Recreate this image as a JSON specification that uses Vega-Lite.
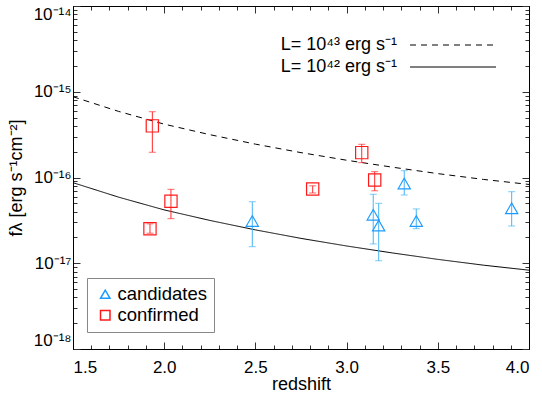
{
  "$schema": "https://vega.github.io/schema/vega-lite/v6.json",
  "width": 456,
  "height": 343,
  "autosize": {"type": "none"},
  "padding": {"left": 73, "top": 6, "right": 13, "bottom": 46},
  "background": "white",
  "config": {
    "view": {"stroke": "black", "strokeWidth": 1},
    "font": "Liberation Sans",
    "axis": {"grid": false, "zindex": 1, "ticks": true, "domainColor": "black", "tickColor": "#333", "tickWidth": 1, "labelColor": "black", "titleColor": "black", "labelFont": "Liberation Sans", "titleFont": "Liberation Sans", "labelFontSize": 17, "titleFontSize": 18, "titleFontWeight": "normal", "labelOverlap": false},
    "legend": {"labelFont": "Liberation Sans", "labelFontSize": 18, "labelColor": "black"}
  },
  "datasets": {
    "curves": [
      {"z": 1.5, "f": 8.75e-16, "L": "L= 10⁴³ erg s⁻¹"},
      {"z": 1.75, "f": 5.9e-16, "L": "L= 10⁴³ erg s⁻¹"},
      {"z": 2.0, "f": 4.19e-16, "L": "L= 10⁴³ erg s⁻¹"},
      {"z": 2.25, "f": 3.16e-16, "L": "L= 10⁴³ erg s⁻¹"},
      {"z": 2.5, "f": 2.45e-16, "L": "L= 10⁴³ erg s⁻¹"},
      {"z": 2.75, "f": 1.95e-16, "L": "L= 10⁴³ erg s⁻¹"},
      {"z": 3.0, "f": 1.59e-16, "L": "L= 10⁴³ erg s⁻¹"},
      {"z": 3.25, "f": 1.32e-16, "L": "L= 10⁴³ erg s⁻¹"},
      {"z": 3.5, "f": 1.11e-16, "L": "L= 10⁴³ erg s⁻¹"},
      {"z": 3.75, "f": 9.5e-17, "L": "L= 10⁴³ erg s⁻¹"},
      {"z": 4.0, "f": 8.3e-17, "L": "L= 10⁴³ erg s⁻¹"},
      {"z": 1.5, "f": 8.7e-17, "L": "L= 10⁴² erg s⁻¹"},
      {"z": 1.75, "f": 5.9e-17, "L": "L= 10⁴² erg s⁻¹"},
      {"z": 2.0, "f": 4.19e-17, "L": "L= 10⁴² erg s⁻¹"},
      {"z": 2.25, "f": 3.16e-17, "L": "L= 10⁴² erg s⁻¹"},
      {"z": 2.5, "f": 2.45e-17, "L": "L= 10⁴² erg s⁻¹"},
      {"z": 2.75, "f": 1.95e-17, "L": "L= 10⁴² erg s⁻¹"},
      {"z": 3.0, "f": 1.59e-17, "L": "L= 10⁴² erg s⁻¹"},
      {"z": 3.25, "f": 1.32e-17, "L": "L= 10⁴² erg s⁻¹"},
      {"z": 3.5, "f": 1.11e-17, "L": "L= 10⁴² erg s⁻¹"},
      {"z": 3.75, "f": 9.5e-18, "L": "L= 10⁴² erg s⁻¹"},
      {"z": 4.0, "f": 8.3e-18, "L": "L= 10⁴² erg s⁻¹"}
    ],
    "points": [
      {"z": 2.483, "f": 3.11e-17, "lo": 1.56e-17, "hi": 5.22e-17, "type": "candidates"},
      {"z": 3.146, "f": 3.68e-17, "lo": 1.68e-17, "hi": 6.37e-17, "type": "candidates"},
      {"z": 3.176, "f": 2.75e-17, "lo": 1.07e-17, "hi": 5.0e-17, "type": "candidates"},
      {"z": 3.316, "f": 8.51e-17, "lo": 6.25e-17, "hi": 1.2e-16, "type": "candidates"},
      {"z": 3.382, "f": 3.11e-17, "lo": 2.53e-17, "hi": 4.3e-17, "type": "candidates"},
      {"z": 3.905, "f": 4.37e-17, "lo": 2.72e-17, "hi": 6.83e-17, "type": "candidates"},
      {"z": 1.935, "f": 4.0e-16, "lo": 1.97e-16, "hi": 5.85e-16, "type": "confirmed"},
      {"z": 1.922, "f": 2.53e-17, "lo": 2.24e-17, "hi": 2.88e-17, "type": "confirmed"},
      {"z": 2.037, "f": 5.28e-17, "lo": 3.31e-17, "hi": 7.28e-17, "type": "confirmed"},
      {"z": 2.814, "f": 7.34e-17, "lo": 6.6e-17, "hi": 8.0e-17, "type": "confirmed"},
      {"z": 3.083, "f": 1.95e-16, "lo": 1.49e-16, "hi": 2.44e-16, "type": "confirmed"},
      {"z": 3.154, "f": 9.35e-17, "lo": 7.0e-17, "hi": 1.17e-16, "type": "confirmed"}
    ]
  },
  "resolve": {"axis": {"x": "independent", "y": "independent"}},
  "layer": [
    {
      "data": {"name": "curves"},
      "mark": {"type": "line", "color": "black", "strokeWidth": 1, "clip": true},
      "encoding": {
        "x": {"field": "z", "type": "quantitative",
          "scale": {"domain": [1.5, 4.0], "nice": false, "zero": false},
          "axis": {"orient": "bottom", "title": "redshift", "titlePadding": 0,
            "values": [1.5, 2.0, 2.5, 3.0, 3.5, 4.0], "format": ".1f",
            "tickSize": -7, "labelPadding": 17}},
        "y": {"field": "f", "type": "quantitative",
          "scale": {"type": "log", "domain": [1e-18, 1e-14], "nice": false},
          "axis": {"orient": "left", "title": "fλ [erg s⁻¹cm⁻²]", "titlePadding": 8,
            "values": [1e-18, 1e-17, 1e-16, 1e-15, 1e-14],
            "labelExpr": "'10' + ({'-18':'⁻¹⁸','-17':'⁻¹⁷','-16':'⁻¹⁶','-15':'⁻¹⁵','-14':'⁻¹⁴'})[''+round(log(datum.value)/LN10)]",
            "labelFlush": true, "tickSize": -7, "labelPadding": 9}},
        "strokeDash": {"field": "L", "type": "nominal",
          "scale": {"domain": ["L= 10⁴³ erg s⁻¹", "L= 10⁴² erg s⁻¹"], "range": [[6, 5], [1, 0]]},
          "legend": {"orient": "none", "legendX": 328, "legendY": 30, "title": null, "symbolType": "M0,0H17.2", "symbolSize": 100, "symbolStrokeColor": "black", "symbolStrokeWidth": 1, "labelAlign": "right", "labelOffset": -22, "labelFontSize": 18, "rowPadding": 4, "padding": 0}}
      }
    },
    {
      "data": {"name": "points"},
      "mark": {"type": "rule", "strokeWidth": 1},
      "encoding": {
        "x": {"field": "z", "type": "quantitative",
          "axis": {"orient": "bottom", "title": null, "labels": false, "tickSize": -4,
            "values": [1.6,1.7,1.8,1.9,2.1,2.2,2.3,2.4,2.6,2.7,2.8,2.9,3.1,3.2,3.3,3.4,3.6,3.7,3.8,3.9]}},
        "y": {"field": "lo", "type": "quantitative",
          "axis": {"orient": "left", "title": null, "labels": false, "tickSize": -4,
            "values": [2e-18,3e-18,4e-18,5e-18,6e-18,7e-18,8e-18,9e-18,2e-17,3e-17,4e-17,5e-17,6e-17,7e-17,8e-17,9e-17,2e-16,3e-16,4e-16,5e-16,6e-16,7e-16,8e-16,9e-16,2e-15,3e-15,4e-15,5e-15,6e-15,7e-15,8e-15,9e-15]}},
        "y2": {"field": "hi"},
        "color": {"condition": {"test": "datum.type === 'candidates'", "value": "#45b4f5"}, "value": "#ff2a2a"}
      }
    },
    {
      "data": {"name": "points"},
      "mark": {"type": "tick", "orient": "horizontal", "size": 7, "thickness": 1},
      "encoding": {
        "x": {"field": "z", "type": "quantitative",
          "axis": {"orient": "top", "title": null, "labels": false, "tickSize": -7,
            "values": [1.5, 2.0, 2.5, 3.0, 3.5, 4.0]}},
        "y": {"field": "lo", "type": "quantitative",
          "axis": {"orient": "right", "title": null, "labels": false, "tickSize": -7,
            "values": [1e-18, 1e-17, 1e-16, 1e-15, 1e-14]}},
        "color": {"condition": {"test": "datum.type === 'candidates'", "value": "#45b4f5"}, "value": "#ff2a2a"}
      }
    },
    {
      "data": {"name": "points"},
      "mark": {"type": "tick", "orient": "horizontal", "size": 7, "thickness": 1},
      "encoding": {
        "x": {"field": "z", "type": "quantitative",
          "axis": {"orient": "top", "title": null, "labels": false, "tickSize": -4,
            "values": [1.6,1.7,1.8,1.9,2.1,2.2,2.3,2.4,2.6,2.7,2.8,2.9,3.1,3.2,3.3,3.4,3.6,3.7,3.8,3.9]}},
        "y": {"field": "hi", "type": "quantitative",
          "axis": {"orient": "right", "title": null, "labels": false, "tickSize": -4,
            "values": [2e-18,3e-18,4e-18,5e-18,6e-18,7e-18,8e-18,9e-18,2e-17,3e-17,4e-17,5e-17,6e-17,7e-17,8e-17,9e-17,2e-16,3e-16,4e-16,5e-16,6e-16,7e-16,8e-16,9e-16,2e-15,3e-15,4e-15,5e-15,6e-15,7e-15,8e-15,9e-15]}},
        "color": {"condition": {"test": "datum.type === 'candidates'", "value": "#45b4f5"}, "value": "#ff2a2a"}
      }
    },
    {
      "data": {"name": "points"},
      "mark": {"type": "point", "filled": false, "strokeWidth": 1.2, "opacity": 1},
      "encoding": {
        "x": {"field": "z", "type": "quantitative", "axis": null},
        "y": {"field": "f", "type": "quantitative", "axis": null},
        "color": {"field": "type", "type": "nominal",
          "scale": {"domain": ["candidates", "confirmed"], "range": ["#1e9bff", "#ff1a1a"]},
          "legend": {"orient": "none", "legendX": 14, "legendY": 272, "title": null, "strokeColor": "#888", "padding": 7, "rowPadding": 2, "labelFontSize": 18.5, "symbolSize": 90, "symbolStrokeWidth": 1.5, "symbolOffset": 2, "labelOffset": 3}},
        "shape": {"field": "type", "type": "nominal",
          "scale": {"domain": ["candidates", "confirmed"], "range": ["triangle-up", "square"]},
          "legend": {"orient": "none", "legendX": 14, "legendY": 272, "title": null}},
        "size": {"value": 150}
      }
    }
  ]
}
